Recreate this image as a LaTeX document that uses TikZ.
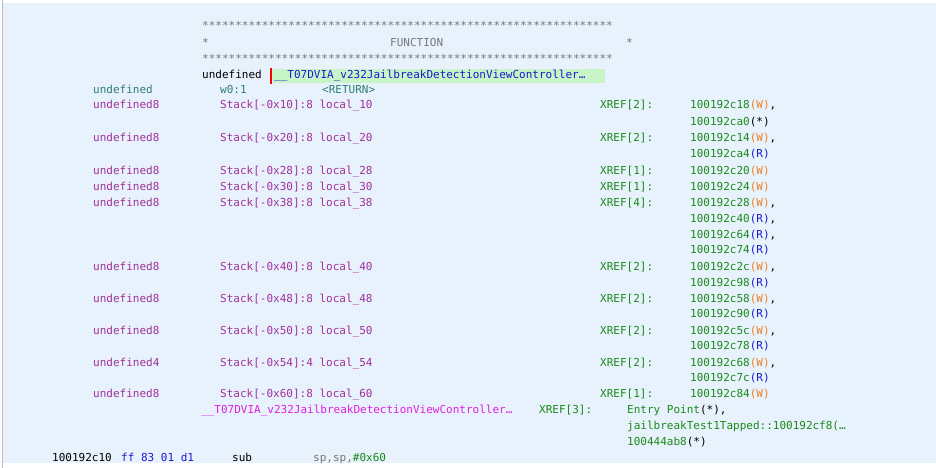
\documentclass[tikz,border=0pt]{standalone}
\usepackage{fontspec}
\setmonofont{DejaVu Sans Mono}[Scale=1]
\definecolor{bg}{HTML}{E8F2FC}
\definecolor{tl}{HTML}{2E7D74}
\definecolor{pu}{HTML}{A0309A}
\definecolor{gr}{HTML}{1A8A1A}
\definecolor{og}{HTML}{F08020}
\definecolor{bl}{HTML}{1A1AD0}
\definecolor{mg}{HTML}{E020E0}
\definecolor{hl}{HTML}{C8F5C8}
\definecolor{gy}{HTML}{777777}
\newcommand{\T}[5]{\node[txt,text=#4] (#1) at (#2pt,-#3pt) {#5};}
\begin{document}
\begin{tikzpicture}[x=1pt,y=1pt,txt/.style={anchor=base west,inner sep=0pt,font=\ttfamily\fontsize{11pt}{11pt}\selectfont}]
\useasboundingbox (0,0) rectangle (936,-468);
\fill[white] (0,0) rectangle (936,-468);
\fill[bg] (3,-3) rectangle (936,-463);
\draw[gray!50] (2,0) -- (2,-468);
\def\stars{**************************************************************}
\T{s1}{202}{30}{gy}{\stars}
\T{s2}{202}{47}{gy}{*}
\T{fn}{390}{47}{gy}{FUNCTION}
\T{s3}{626}{47}{gy}{*}
\T{s4}{202}{63}{gy}{\stars}
\T{hu}{202}{79}{black}{undefined}
\fill[hl] (271,-69) rectangle (605,-83);
\fill[red] (270,-68) rectangle (272,-84);
\T{hn}{274}{79}{bl}{\_\_T07DVIA\_v232JailbreakDetectionViewController…}
\T{u0}{93}{94}{tl}{undefined}
\T{w0}{220}{94}{tl}{w0:1}
\T{rt}{322}{94}{tl}{<RETURN>}
% variable rows
\newcommand{\V}[6]{\T{ty#1}{93}{#2}{pu}{#3}\T{st#1}{220}{#2}{pu}{Stack[-0x#4]:#5 local\_#1}\T{xr#1}{600}{#2}{gr}{XREF[#6]:}}
\newcommand{\A}[4]{\node[txt] (#1) at (690pt,-#2pt) {\textcolor{gr}{#3}#4};}
\def\W{\textcolor{og}{(W)}}\def\R{\textcolor{bl}{(R)}}
\V{10}{109}{undefined8}{10}{8}{2}\A{a1}{109}{100192c18}{\W,}\A{a2}{125}{100192ca0}{(*)}
\V{20}{142}{undefined8}{20}{8}{2}\A{a3}{142}{100192c14}{\W,}\A{a4}{157}{100192ca4}{\R}
\V{28}{174}{undefined8}{28}{8}{1}\A{a5}{174}{100192c20}{\W}
\V{30}{190}{undefined8}{30}{8}{1}\A{a6}{190}{100192c24}{\W}
\V{38}{206}{undefined8}{38}{8}{4}\A{a7}{206}{100192c28}{\W,}\A{a8}{222}{100192c40}{\R,}\A{a9}{238}{100192c64}{\R,}\A{a10}{253}{100192c74}{\R}
\V{40}{270}{undefined8}{40}{8}{2}\A{a11}{270}{100192c2c}{\W,}\A{a12}{286}{100192c98}{\R}
\V{48}{302}{undefined8}{48}{8}{2}\A{a13}{302}{100192c58}{\W,}\A{a14}{317}{100192c90}{\R}
\V{50}{334}{undefined8}{50}{8}{2}\A{a15}{334}{100192c5c}{\W,}\A{a16}{349}{100192c78}{\R}
\V{54}{366}{undefined4}{54}{4}{2}\A{a17}{366}{100192c68}{\W,}\A{a18}{381}{100192c7c}{\R}
\V{60}{397}{undefined8}{60}{8}{1}\A{a19}{397}{100192c84}{\W}
\T{ln}{201}{413}{mg}{\_\_T07DVIA\_v232JailbreakDetectionViewController…}
\T{lx}{539}{413}{gr}{XREF[3]:}
\node[txt] (e1) at (627pt,-413pt) {\textcolor{gr}{Entry Point}(*),};
\T{e2}{627}{429}{gr}{jailbreakTest1Tapped::100192cf8(…}
\node[txt] (e3) at (627pt,-445pt) {\textcolor{gr}{100444ab8}(*)};
\T{ad}{52}{461}{black}{100192c10}
\T{by}{121}{461}{bl}{ff 83 01 d1}
\T{op}{232}{461}{black}{sub}
\node[txt] (ar) at (313pt,-461pt) {\textcolor{gy}{sp,sp,}\textcolor{gr}{\#0x60}};
\end{tikzpicture}
\end{document}
